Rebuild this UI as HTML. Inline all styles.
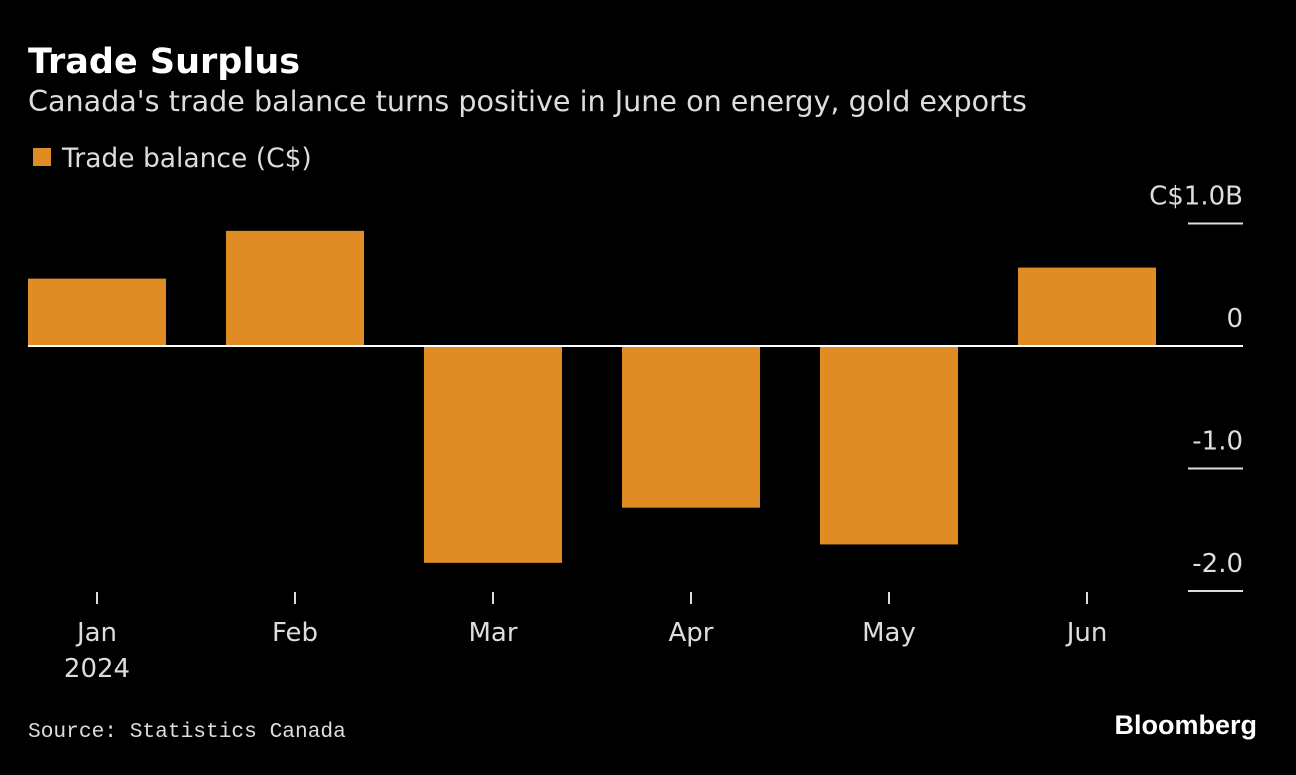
<!DOCTYPE html>
<html><head><meta charset="utf-8"><style>
body{margin:0;background:#000;width:1296px;height:770px;overflow:hidden;font-family:"Liberation Sans","DejaVu Sans",sans-serif;color:#ddd}
svg text{font-family:"DejaVu Sans","Liberation Sans",sans-serif}
</style></head><body>
<svg width="1296" height="770">
<text x="28" y="73" fill="#fff" font-size="35" font-weight="bold">Trade Surplus</text>
<text x="28" y="111" fill="#ddd" font-size="28.6">Canada's trade balance turns positive in June on energy, gold exports</text>
<rect x="33" y="148" width="18" height="18" fill="#e08c25"/>
<text x="62" y="167" fill="#ddd" font-size="26.5">Trade balance (C$)</text>
<g id="bars"></g>
<g id="axes"></g>
<text x="28" y="737" fill="#ddd" style="font-family:'Liberation Mono',monospace;font-size:21.2px">Source: Statistics Canada</text>
<text x="1257" y="734" fill="#fff" font-weight="bold" text-anchor="end" style="font-family:'Liberation Sans',sans-serif;font-size:27px">Bloomberg</text>
</svg>
<script>
const categories=["Jan","Feb","Mar","Apr","May","Jun"];
const values=[0.55,0.94,-1.77,-1.32,-1.62,0.64];
const tickValues=[1,0,-1,-2];
const tickLabels=["C$1.0B","0","-1.0","-2.0"];
const NS="http://www.w3.org/2000/svg";
const y=v=>346-v*122.5;
const xc=i=>97+i*198;
const bars=document.getElementById('bars'),axes=document.getElementById('axes');
function mk(t,a,p){const e=document.createElementNS(NS,t);for(const k in a)e.setAttribute(k,a[k]);p.appendChild(e);return e;}
values.forEach((v,i)=>{
 const r=mk('rect',{x:xc(i)-69,y:Math.min(y(v),y(0)),width:138,height:Math.abs(y(v)-y(0)),fill:'#e08c25'},bars);
 
 
 const t=mk('line',{x1:xc(i),x2:xc(i),y1:592,y2:604,stroke:'#ddd','stroke-width':2},axes);
 
 
 const l=mk('text',{x:xc(i),y:641,fill:'#ddd','font-size':26,'text-anchor':'middle'},axes);
 l.textContent=categories[i];
 
 
});
const yr=mk('text',{x:xc(0),y:677,fill:'#ddd','font-size':26,'text-anchor':'middle'},axes);
yr.textContent='2024';


const z=mk('line',{x1:28,x2:1243,y1:y(0),y2:y(0),stroke:'#fff','stroke-width':2},axes);


tickValues.forEach((v,i)=>{
 if(v!==0){const g=mk('line',{x1:1188,x2:1243,y1:y(v),y2:y(v),stroke:'#ddd','stroke-width':2},axes);
 
 }
 const t=mk('text',{x:1243,y:y(v)-19,fill:'#ddd','font-size':26,'text-anchor':'end'},axes);
 t.textContent=tickLabels[i];
 
 
});
</script>
</body></html>
